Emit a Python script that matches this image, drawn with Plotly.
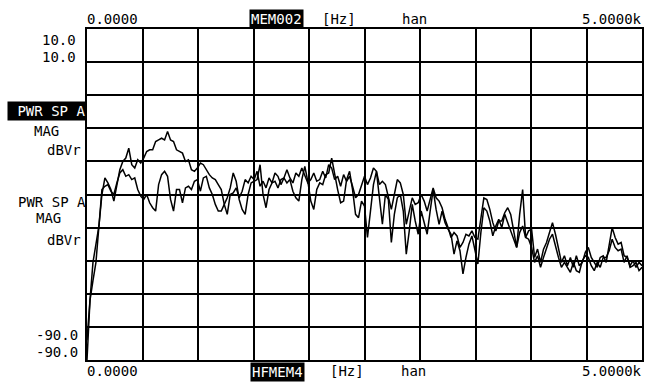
import numpy as np
import plotly.graph_objects as go

# Frequency axis (Hz): analyzer bins spanning 0 .. 5 kHz
freq_hz = np.linspace(0, 5000, 187)

# Trace 1 (MEM002) magnitude, dBVr
mag_a = [-90, -72, -60.5, -55, -49.5, -40, -35, -36.5, -38.5, -42,
         -37, -32.5, -30, -29, -26, -31, -32, -29.5, -30.5, -29,
         -27, -26.5, -26.5, -24, -23.5, -23, -23.5, -21, -23.5, -24,
         -26.5, -27, -27.5, -30, -29.5, -32.5, -33, -32, -30.5, -31,
         -32.5, -34, -35, -35.5, -37, -38.5, -43, -46, -40, -39.5,
         -38, -41, -39, -35.5, -36.5, -34.5, -35.5, -33, -37.5, -36,
         -38, -35, -36.5, -33.5, -34.5, -37, -35, -32.5, -35, -36.5,
         -33.5, -34.5, -32, -34, -36.5, -35.5, -33.5, -36, -35.5, -33,
         -35, -31, -32, -35.5, -34.5, -37.5, -34, -36, -34.5, -37.5,
         -41, -40, -37, -34.5, -37, -35, -32, -33, -37, -36,
         -37, -40.5, -44.5, -40, -35.5, -36.5, -40, -49, -44.5, -41,
         -43, -42.5, -40, -42, -45, -41, -38, -41, -42, -44,
         -47.5, -50, -53, -51.5, -52.5, -56, -54.5, -52, -52.5, -51,
         -53, -53.5, -47, -41, -41.5, -44.5, -48.5, -51, -48, -48,
         -45.5, -44, -46, -51, -56, -46, -38.5, -53, -51, -50.5,
         -59, -56.5, -60.5, -56.5, -54.5, -51.5, -48.5, -52, -56.5, -60.5,
         -58.5, -61.5, -59, -62, -58.5, -61.5, -60.5, -57.5, -56, -59,
         -60.5, -62, -59, -58.5, -60.5, -55, -50, -53, -55, -54.5,
         -58.5, -59, -61.5, -60, -62, -60.5, -61.5]

# Trace 2 (MEM004) magnitude, dBVr
mag_b = [-84, -72, -66, -60.5, -49.5, -38.5, -37.5, -37, -39, -40,
         -36.5, -33.5, -32.5, -34.5, -34, -35.5, -35, -38.5, -40.5, -41.5,
         -40, -42.5, -44, -45, -37, -34, -33, -34.5, -41.5, -45,
         -38.5, -38.5, -42.5, -38, -37.5, -38.5, -36, -35.5, -39, -35,
         -34.5, -38, -40, -43, -45, -45, -43, -41, -38, -33.5,
         -36, -41.5, -44.5, -46, -40, -36.5, -36, -35.5, -31, -40,
         -44, -38.5, -36.5, -36, -38, -35.5, -35, -36.5, -35.5, -39,
         -41, -42, -35.5, -31.5, -36, -42, -44.5, -38.5, -36.5, -37,
         -34, -33.5, -29, -34, -38.5, -42.5, -42, -35.5, -33, -38.5,
         -46, -47, -42, -43.5, -53, -45, -37, -33, -42, -49,
         -40, -41.5, -54.5, -46, -41, -40, -45, -58, -51, -43,
         -48, -52, -45, -49, -52, -45, -38.5, -44.5, -49, -45,
         -48.5, -50.5, -52, -58, -54, -57, -64, -59, -55, -52.5,
         -56.5, -61, -51.5, -44, -45, -48, -52.5, -49.5, -47.5, -50,
         -46, -48.5, -50.5, -53.5, -56, -51.5, -49.5, -53, -53.5, -56,
         -60.5, -58.5, -62, -59, -56, -53.5, -52, -56, -59, -62,
         -60.5, -62, -63.5, -60.5, -63, -63.5, -60, -58.5, -59, -61.5,
         -63, -60.5, -62, -59, -59, -57, -53.5, -56, -57, -56.5,
         -60.5, -58.5, -62, -61.5, -60.5, -63, -62]

x_range = [0, 5000]
y_range = [-90, 10]

fig = go.Figure()
fig.add_trace(go.Scatter(x=freq_hz, y=mag_a, mode="lines",
                         line=dict(color="black", width=1.5), showlegend=False))
fig.add_trace(go.Scatter(x=freq_hz, y=mag_b, mode="lines",
                         line=dict(color="black", width=1.5), showlegend=False))

FONT = "DejaVu Sans Mono"
W, H = 646, 382
L, R, T, B = 87, 644, 29, 360  # plot box in window pixels


def px(x):
    return (x - L) / (R - L)


def py(y):
    return (B - y) / (B - T)


def label(text, x, y, anchor="left", box=False, size=14, pad=0):
    fig.add_annotation(
        text=text, xref="paper", yref="paper", x=px(x), y=py(y),
        xanchor=anchor, yanchor="middle", showarrow=False,
        font=dict(family=FONT, size=size, color="white" if box else "black"),
        bgcolor="black" if box else None, borderpad=pad,
    )

# top header
label("0.0000", 86, 19)
label("MEM002", 277, 19, "center", box=True, pad=1)
label("[Hz]", 340, 19, "center")
label("han", 416, 19, "center")
label("5.0000k", 645, 19, "right")
# bottom header
label("0.0000", 86, 371)
label("HFMEM4", 278, 372, "center", box=True, pad=1)
label("[Hz]", 348, 371, "center")
label("han", 415, 371, "center")
label("5.0000k", 645, 371, "right")
# left labels
label("10.0", 77, 40, "right")
label("10.0", 77, 57, "right")
label(" PWR SP A", 87, 111, "right", box=True, pad=1)
label("MAG", 46, 131, "center")
label("dBVr", 82, 150, "right")
label("PWR SP A", 87, 202, "right")
label("MAG", 48, 218, "center")
label("dBVr", 82, 240, "right")
label("-90.0", 79, 335, "right")
label("-90.0", 79, 352, "right")

fig.update_xaxes(range=x_range, dtick=500, tick0=0, showgrid=True,
                 gridcolor="black", gridwidth=1.6, showticklabels=False,
                 ticks="", zeroline=False, showline=True, linecolor="black",
                 linewidth=2, mirror=True, fixedrange=True)
fig.update_yaxes(range=y_range, dtick=10, tick0=-90, showgrid=True,
                 gridcolor="black", gridwidth=1.6, showticklabels=False,
                 ticks="", zeroline=False, showline=True, linecolor="black",
                 linewidth=2, mirror=True, fixedrange=True)
fig.update_layout(
    width=W, height=H,
    margin=dict(l=L, r=W - R, t=T, b=H - B),
    paper_bgcolor="white", plot_bgcolor="white",
    showlegend=False,
)
fig.write_html(
    "out.html",
    config={"displayModeBar": False},
    post_script="document.body.style.margin='0';"
                "document.body.style.overflow='hidden';",
)
